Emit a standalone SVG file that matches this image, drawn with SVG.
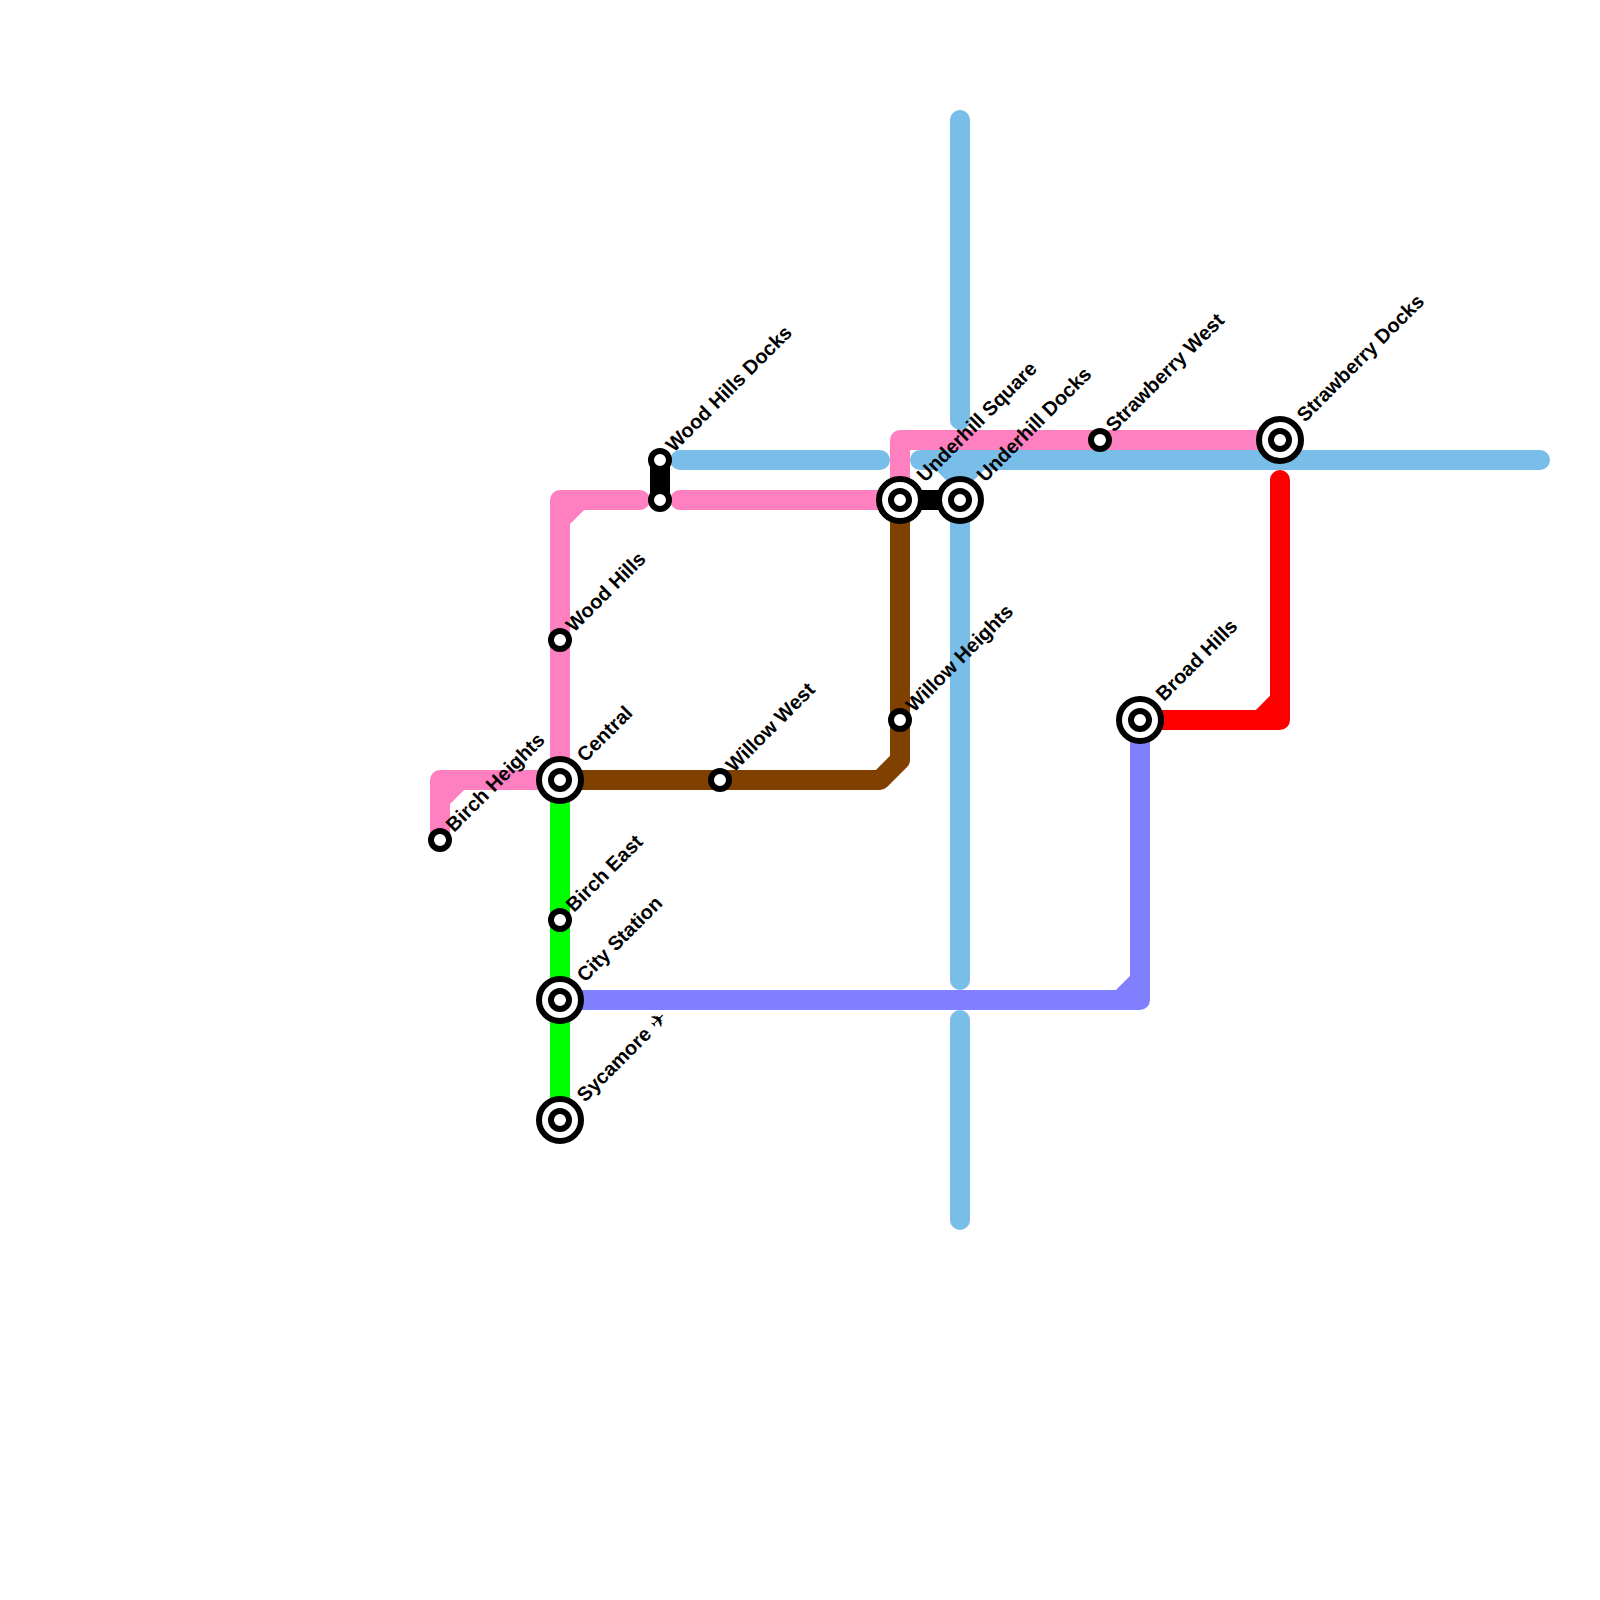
<svg xmlns="http://www.w3.org/2000/svg" width="1600" height="1600" viewBox="0 0 1600 1600">
<style>
.l{fill:none;stroke-width:20;stroke-linecap:round;stroke-linejoin:round}
.s{fill:#fff;stroke:#000;stroke-width:6}
.o{fill:#fff;stroke:#000;stroke-width:6}
text{font-family:"Liberation Sans",Arial,sans-serif;font-size:20px;font-weight:bold;fill:#000}
.p{font-weight:normal}
</style>
<rect width="1600" height="1600" fill="#fff"/>
<g id="connectors">
<path class="l" stroke="#79bde9" d="M960 120V420M680 460H880M1540 460H920M960 460V980M940 460L960 480L980 460M960 1020V1220"/>
<path class="l" stroke="#ff80c0" d="M1280 440H900V500M900 500H680M640 500H560V780M560 520L580 500M560 780H440V840M440 800L460 780"/>
<path class="l" stroke="#00ff00" d="M560 780V1120"/>
<path class="l" stroke="#804000" d="M560 780H880L900 760V500"/>
<path class="l" stroke="#8080ff" d="M560 1000H1140V720M1120 1000L1140 980"/>
<path class="l" stroke="#ff0000" d="M1280 480V720H1140M1260 720L1280 700"/>
<path class="l" stroke="#000" d="M660 460V500M900 500H960"/>
</g>
<g id="central"><circle class="o" cx="560" cy="780" r="21"/><circle class="s" cx="560" cy="780" r="9"/><text transform="translate(585 763) rotate(-45)">Central</text></g>
<g id="city-station"><circle class="o" cx="560" cy="1000" r="21"/><circle class="s" cx="560" cy="1000" r="9"/><text transform="translate(585 983) rotate(-45)">City Station</text></g>
<g id="sycamore"><circle class="o" cx="560" cy="1120" r="21"/><circle class="s" cx="560" cy="1120" r="9"/><text transform="translate(585 1103) rotate(-45)">Sycamore <tspan class="p">✈</tspan></text></g>
<g id="birch-east"><circle class="s" cx="560" cy="920" r="9"/><text transform="translate(574 913) rotate(-45)">Birch East</text></g>
<g id="birch-heights"><circle class="s" cx="440" cy="840" r="9"/><text transform="translate(454 833) rotate(-45)">Birch Heights</text></g>
<g id="wood-hills"><circle class="s" cx="560" cy="640" r="9"/><text transform="translate(574 633) rotate(-45)">Wood Hills</text></g>
<g id="wood-hills-docks"><circle class="s" cx="660" cy="460" r="9"/><text transform="translate(674 453) rotate(-45)">Wood Hills Docks</text></g>
<g id="wood-hills-docks-2"><circle class="s" cx="660" cy="500" r="9"/></g>
<g id="willow-west"><circle class="s" cx="720" cy="780" r="9"/><text transform="translate(734 773) rotate(-45)">Willow West</text></g>
<g id="willow-heights"><circle class="s" cx="900" cy="720" r="9"/><text transform="translate(914 713) rotate(-45)">Willow Heights</text></g>
<g id="underhill-square"><circle class="o" cx="900" cy="500" r="21"/><circle class="s" cx="900" cy="500" r="9"/><text transform="translate(925 483) rotate(-45)">Underhill Square</text></g>
<g id="underhill-docks"><circle class="o" cx="960" cy="500" r="21"/><circle class="s" cx="960" cy="500" r="9"/><text transform="translate(985 483) rotate(-45)">Underhill Docks</text></g>
<g id="strawberry-west"><circle class="s" cx="1100" cy="440" r="9"/><text transform="translate(1114 433) rotate(-45)">Strawberry West</text></g>
<g id="strawberry-docks"><circle class="o" cx="1280" cy="440" r="21"/><circle class="s" cx="1280" cy="440" r="9"/><text transform="translate(1305 423) rotate(-45)">Strawberry Docks</text></g>
<g id="broad-hills"><circle class="o" cx="1140" cy="720" r="21"/><circle class="s" cx="1140" cy="720" r="9"/><text transform="translate(1164 702) rotate(-45)">Broad Hills</text></g>
</svg>
